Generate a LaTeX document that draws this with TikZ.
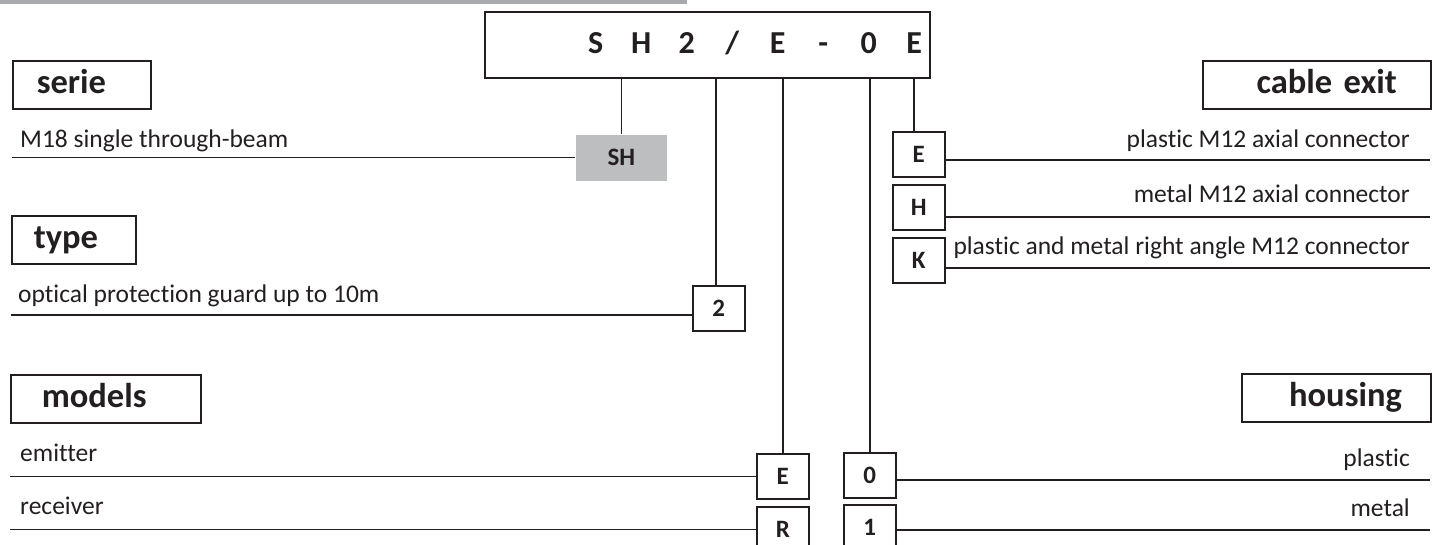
\documentclass[tikz,border=0pt]{standalone}
\usepackage{fontspec}
\setmainfont{Carlito}[Ligatures=NoCommon]

\definecolor{inkcol}{HTML}{231F20}
\definecolor{barcol}{HTML}{A7A9AC}
\definecolor{shcol}{HTML}{BCBEC0}

\newcommand{\hdrfont}{\fontsize{34.5}{40}\selectfont\bfseries}
\newcommand{\boxfont}{\fontsize{25}{30}\selectfont\bfseries}
\newcommand{\lblfont}{\fontsize{25.5}{31}\selectfont}
\newcommand{\codefont}{\fontsize{32}{38}\selectfont\bfseries}

\tikzset{
  hdr/.style={draw=inkcol, line width=1.6pt, minimum height=48pt, inner ysep=0pt,
    text height=17pt, text depth=0pt, font=\hdrfont, text=inkcol, anchor=north west},
  codebox/.style={draw=inkcol, line width=1.6pt, minimum width=52pt, minimum height=45pt,
    inner sep=0pt, font=\boxfont, text=inkcol, anchor=north west},
  lbl/.style={font=\lblfont, text=inkcol, inner sep=0pt},
  wire/.style={inkcol, line width=1.4pt}
}

\begin{document}
\begin{tikzpicture}[x=1pt,y=-1pt]

\useasboundingbox (0,0) rectangle (1432,545);

\fill[barcol] (0,0) rectangle (687,4);

\node[draw=inkcol, line width=1.6pt, minimum width=445pt, minimum height=66pt, anchor=north west] (code) at (484,11) {};
\node[font=\codefont, text=inkcol, inner sep=0pt, anchor=base] (codetxt) at (755,54)
  {\makebox[45.5pt]{S}\makebox[45.5pt]{H}\makebox[45.5pt]{2}\makebox[45.5pt]{/}\makebox[45.5pt]{E}\makebox[45.5pt]{-}\makebox[45.5pt]{0}\makebox[45.5pt]{E}};

\node[hdr, text width=90pt, inner xsep=24pt, align=left] (serie) at (12,60) {serie};
\node[hdr, text width=80pt, inner xsep=22pt, align=left] (type) at (11,215) {type};
\node[hdr, text width=128pt, inner xsep=31pt, align=left] (models) at (10,374) {models};
\node[hdr, text width=160pt, inner xsep=34pt, align=right] (cable) at (1202,60) {cable exit};
\node[hdr, text width=131pt, inner xsep=29pt, align=right] (housing) at (1241,373) {housing};

\node[codebox, draw=none, fill=shcol, minimum width=91pt, minimum height=46pt] (sh) at (575,134) {SH};
\node[codebox] (two) at (692,285) {2};
\node[codebox] (mE) at (756,453) {E};
\node[codebox] (mR) at (756,506) {R};
\node[codebox] (h0) at (843,452) {0};
\node[codebox] (h1) at (843,504) {1};
\node[codebox] (cE) at (892,131) {E};
\node[codebox] (cH) at (892,184) {H};
\node[codebox] (cK) at (892,237) {K};

\coordinate (typeline) at (11,315);
\coordinate (cEend) at (1430,160);
\coordinate (cHend) at (1430,217);
\coordinate (cKend) at (1430,268);
\coordinate (h0end) at (1430,480);
\coordinate (h1end) at (1430,530);

\draw[wire] (sh.north) -- (sh.north |- code.south);
\draw[wire] ([xshift=-3pt]two.north) -- ([xshift=-3pt]two.north |- code.south);
\draw[wire] (mE.north) -- (mE.north |- code.south);
\draw[wire] (h0.north) -- (h0.north |- code.south);
\draw[wire] ([xshift=-5pt]cE.north) -- ([xshift=-5pt]cE.north |- code.south);

\draw[wire] (serie.west |- sh.west) -- (sh.west);
\draw[wire] (typeline) -- (typeline -| two.west);
\draw[wire] (models.west |- mE.west) -- (mE.west);
\draw[wire] (models.west |- mR.west) -- (mR.west);
\draw[wire] (h0.east |- h0end) -- (h0end);
\draw[wire] (h1.east |- h1end) -- (h1end);
\draw[wire] (cE.east |- cEend) -- (cEend);
\draw[wire] (cH.east |- cHend) -- (cHend);
\draw[wire] (cK.east |- cKend) -- (cKend);

\node[lbl, anchor=base west] (lserie) at (20,148) {M18 single through-beam};
\node[lbl, anchor=base west] (ltype) at (18,302) {optical protection guard up to 10m};
\node[lbl, anchor=base west] (lemit) at (20,461) {emitter};
\node[lbl, anchor=base west] (lrecv) at (20,514) {receiver};
\node[lbl, anchor=base east] (lcE) at (1410,148) {plastic M12 axial connector};
\node[lbl, anchor=base east] (lcH) at (1410,203) {metal M12 axial connector};
\node[lbl, anchor=base east] (lcK) at (1410,255) {plastic and metal right angle M12 connector};
\node[lbl, anchor=base east] (lplastic) at (1410,466) {plastic};
\node[lbl, anchor=base east] (lmetal) at (1410,516) {metal};

\end{tikzpicture}
\end{document}
